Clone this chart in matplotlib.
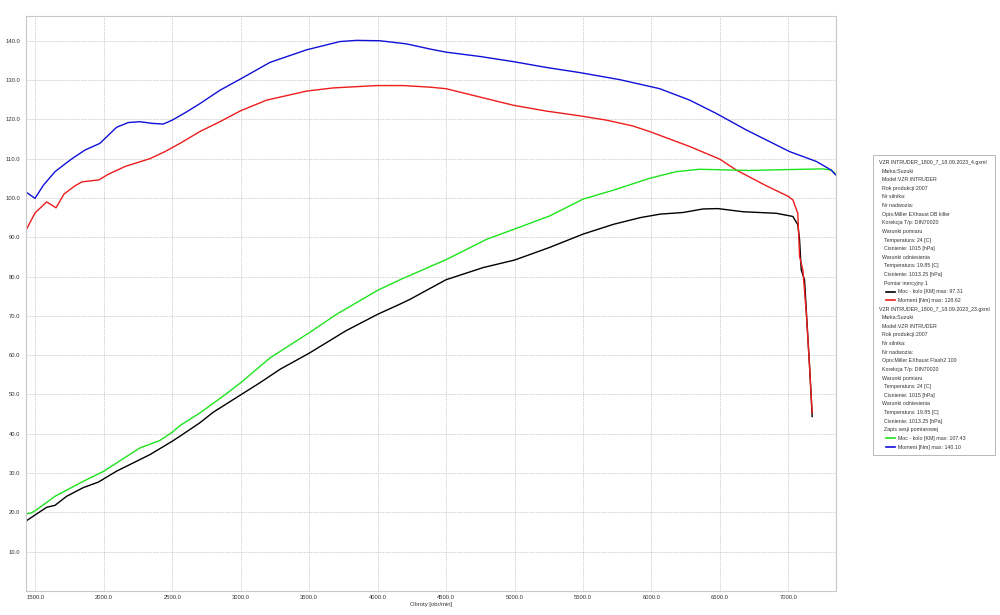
import matplotlib
matplotlib.use("Agg")
import matplotlib.pyplot as plt
from matplotlib.patches import Rectangle
from matplotlib.lines import Line2D

plt.rcParams['font.family'] = ['Liberation Sans', 'DejaVu Sans']

# ---- data ----
rpm_moment2 = [1432, 1498, 1558, 1644, 1760, 1863, 1972, 2094, 2180, 2264, 2350, 2434, 2500,
               2600, 2702, 2848, 3000, 3214, 3482, 3725, 3847, 4017, 4212, 4382, 4500, 4748,
               4990, 5234, 5477, 5769, 6061, 6279, 6474, 6693, 7009, 7204, 7313, 7344]
moment2 = [101.5, 99.9, 103.2, 106.7, 109.8, 112.2, 113.9, 118.0, 119.2, 119.4, 119.0, 118.8, 119.8,
           121.8, 124.0, 127.4, 130.3, 134.5, 137.7, 139.8, 140.1, 140.0, 139.2, 137.9, 137.1, 136.0,
           134.7, 133.2, 131.9, 130.1, 127.8, 124.9, 121.5, 117.3, 111.8, 109.3, 107.1, 105.9]

rpm_moment1 = [1432, 1498, 1583, 1651, 1710, 1790, 1841, 1965, 2031, 2155, 2272, 2337, 2447, 2557,
               2702, 2848, 3000, 3190, 3482, 3676, 3993, 4187, 4382, 4500, 4675, 4990, 5234, 5477,
               5672, 5866, 5987, 6279, 6498, 6620, 6839, 7000, 7033, 7069, 7082, 7106, 7131, 7155, 7174]
moment1 = [91.8, 96.2, 99.0, 97.5, 101.0, 103.1, 104.1, 104.6, 106.0, 108.0, 109.3, 110.0, 111.8, 113.9,
           116.9, 119.4, 122.2, 124.9, 127.2, 128.0, 128.6, 128.6, 128.2, 127.8, 126.3, 123.6, 122.1, 120.9,
           119.8, 118.3, 116.9, 113.1, 109.9, 107.1, 103.1, 100.4, 99.5, 96.1, 85.1, 81.7, 70.7, 57.1, 45.3]

rpm_power2 = [1432, 1474, 1510, 1644, 1850, 1996, 2264, 2410, 2500, 2557, 2702, 2873, 3000, 3214,
              3500, 3700, 4000, 4164, 4236, 4500, 4797, 5000, 5255, 5500, 5723, 5987, 6182, 6352,
              6717, 6960, 7252, 7313, 7340]
power2 = [19.6, 19.9, 20.7, 24.1, 27.9, 30.4, 36.4, 38.3, 40.4, 42.1, 45.3, 49.6, 53.0, 59.3,
          65.7, 70.4, 76.5, 79.2, 80.3, 84.3, 89.5, 92.1, 95.4, 99.7, 102.0, 105.0, 106.7, 107.3,
          107.0, 107.2, 107.4, 107.1, 106.3]

rpm_power1 = [1432, 1583, 1644, 1729, 1850, 1960, 2094, 2337, 2500, 2557, 2702, 2800, 3000, 3141,
              3287, 3500, 3768, 4000, 4164, 4236, 4500, 4772, 5000, 5255, 5500, 5723, 5918, 6066,
              6230, 6376, 6485, 6668, 6912, 7033, 7069, 7082, 7094, 7118, 7155, 7174]
power1 = [17.8, 21.3, 21.8, 24.1, 26.3, 27.7, 30.5, 34.7, 38.1, 39.4, 42.8, 45.5, 49.9, 53.0,
          56.4, 60.5, 66.2, 70.4, 73.0, 74.2, 79.2, 82.3, 84.2, 87.4, 90.8, 93.3, 95.0, 95.9,
          96.3, 97.2, 97.3, 96.5, 96.1, 95.3, 93.2, 89.4, 81.7, 79.2, 57.1, 44.4]

x_ticks = [1500, 2000, 2500, 3000, 3500, 4000, 4500, 5000, 5500, 6000, 6500, 7000]
y_ticks = [10, 20, 30, 40, 50, 60, 70, 80, 90, 100, 110, 120, 130, 140]

legend_lines = [
    ("VZR INTRUDER_1800_7_18.09.2023_4.gxml", 0, None),
    ("Marka:Suzuki", 1, None),
    ("Model:VZR INTRUDER", 1, None),
    ("Rok produkcji:2007", 1, None),
    ("Nr silnika:", 1, None),
    ("Nr nadwozia:", 1, None),
    ("Opis:Miller EXhaust DB killer", 1, None),
    ("Korekcja T/p: DIN70020", 1, None),
    ("Warunki pomiaru", 1, None),
    ("Temperatura: 24 [C]", 2, None),
    ("Cisnienie: 1015 [hPa]", 2, None),
    ("Warunki odniesienia", 1, None),
    ("Temperatura: 19.85 [C]", 2, None),
    ("Cisnienie: 1013.25 [hPa]", 2, None),
    ("Pomiar inercyjny 1", 2, None),
    ("Moc - kolo [KM] max: 97.31", 3, "#000000"),
    ("Moment [Nm] max: 128.62", 3, "#ee1c1c"),
    ("VZR INTRUDER_1800_7_18.09.2023_23.gxml", 0, None),
    ("Marka:Suzuki", 1, None),
    ("Model:VZR INTRUDER", 1, None),
    ("Rok produkcji:2007", 1, None),
    ("Nr silnika:", 1, None),
    ("Nr nadwozia:", 1, None),
    ("Opis:Miller EXhaust Flash2 100", 1, None),
    ("Korekcja T/p: DIN70020", 1, None),
    ("Warunki pomiaru", 1, None),
    ("Temperatura: 24 [C]", 2, None),
    ("Cisnienie: 1015 [hPa]", 2, None),
    ("Warunki odniesienia", 1, None),
    ("Temperatura: 19.85 [C]", 2, None),
    ("Cisnienie: 1013.25 [hPa]", 2, None),
    ("Zapis sesji pomiarowej", 2, None),
    ("Moc - kolo [KM] max: 107.43", 3, "#1de31d"),
    ("Moment [Nm] max: 140.10", 3, "#1010d8"),
]

# ---- figure ----
W, H = 1000, 615
fig = plt.figure(figsize=(W / 100, H / 100), dpi=100)
ax = fig.add_axes([26 / W, (H - 591) / H, (836 - 26) / W, (591 - 16) / H])

ax.plot(rpm_power1, power1, color="#000000", lw=1.0)
ax.plot(rpm_moment1, moment1, color="#ee1c1c", lw=1.0)
ax.plot(rpm_power2, power2, color="#1de31d", lw=1.0)
ax.plot(rpm_moment2, moment2, color="#1010d8", lw=1.0)

ax.set_xlim(1432, 7348)
ax.set_ylim(0, 146.3)
ax.set_xticks(x_ticks)
ax.set_yticks(y_ticks)
ax.set_xticklabels([f"{v:.1f}" for v in x_ticks])
ax.set_yticklabels([f"{v:.1f}" for v in y_ticks])
ax.tick_params(axis='both', length=0, labelsize=4.2, labelcolor="#333333")
ax.tick_params(axis='x', pad=3)
ax.tick_params(axis='y', pad=4)
ax.grid(True, color="#b4b4b4", linestyle=(0, (1.0, 1.3)), linewidth=0.55)
for s in ax.spines.values():
    s.set_color("#c8c8c8")
    s.set_linewidth(0.8)
ax.set_xlabel("Obroty [obr/min]", fontsize=4.2, color="#333333", labelpad=1)

# ---- legend box ----
bx0, bx1, by0, by1 = 873, 995, 155, 455
fig.patches.append(Rectangle((bx0 / W, (H - by1) / H), (bx1 - bx0) / W, (by1 - by0) / H,
                             transform=fig.transFigure, facecolor="white",
                             edgecolor="#b8b8b8", linewidth=0.7))
y0 = 162.5
dy = (447 - 162.5) / (len(legend_lines) - 1)
indent = {0: 879, 1: 882, 2: 884, 3: 898}
for i, (txt, lvl, col) in enumerate(legend_lines):
    yy = y0 + i * dy
    fig.text(indent[lvl] / W, (H - yy) / H, txt, fontsize=3.75, color="#333333",
             ha="left", va="center")
    if col is not None:
        fig.lines.append(Line2D([886 / W, 895 / W], [(H - yy) / H, (H - yy) / H],
                                transform=fig.transFigure, color=col, lw=1.2))

fig.savefig("out.png", dpi=100)
